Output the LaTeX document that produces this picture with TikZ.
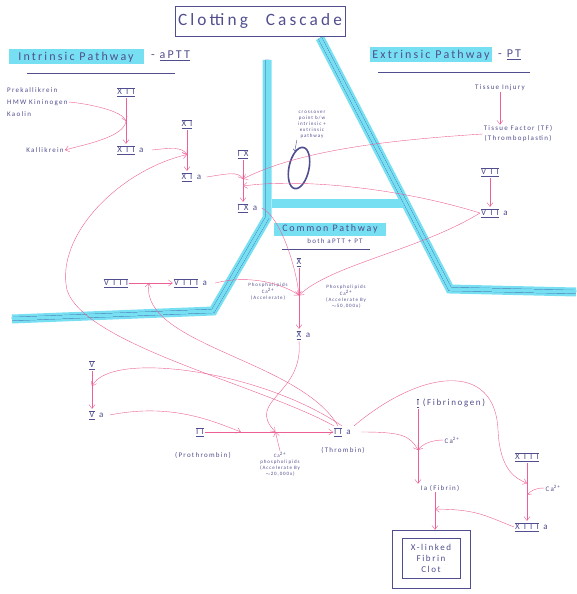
\documentclass[tikz,border=0pt]{standalone}
\usepackage{fontspec}
\setmainfont{Carlito}[LetterSpace=18]
\newfontfamily\numfont{Carlito}[LetterSpace=45]
\usetikzlibrary{arrows.meta,shapes.geometric}
\definecolor{ink}{RGB}{80,78,142}
\definecolor{pen}{RGB}{236,96,150}
\definecolor{marker}{RGB}{118,224,242}
\definecolor{rule}{RGB}{58,66,150}
\newcommand{\rn}[1]{$\overline{\underline{\hbox{\numfont #1}}}$}
\newcommand{\rna}[1]{\rn{#1}\rlap{\enspace a}}
\newcommand{\caion}{Ca\textsuperscript{2+}}
\tikzset{
  factor/.style={text=ink,font=\small,inner sep=1pt},
  note/.style={text=ink,font=\scriptsize,inner sep=1pt,align=center},
  tinynote/.style={text=ink,font=\tiny,inner sep=1pt,align=center},
  heading/.style={text=ink,font=\large,inner sep=1pt},
  highlight/.style={heading,fill=marker,minimum height=15pt},
  ring/.style={draw=ink,ellipse,line width=1.6pt,minimum width=20pt,minimum height=42pt,rotate=-12},
  clotbox/.style={draw=ink,align=center,text=ink,font=\small,minimum width=58pt,minimum height=40pt},
  clotframe/.style={draw=ink,minimum width=78pt,minimum height=58pt},
  act/.style={draw=pen,-{Straight Barb[length=4pt,width=6pt]}},
  band/.style={draw=marker,line width=9pt},
  bandline/.style={draw=rule,double=marker,double distance=3.5pt,very thin}
}
\begin{document}
\begin{tikzpicture}[x=1pt,y=-1pt]
  \useasboundingbox (0,0) rectangle (576,594);
  % pathway borders
  \draw[band] (267,60) -- (267,218) -- (213,311) -- (12,319);
  \draw[band] (272,203) -- (404,203);
  \draw[band] (320,38) -- (450,289) -- (576,292);
  \draw[bandline] (267,60) -- (267,218) -- (213,311) -- (12,319);
  \draw[bandline] (272,203) -- (404,203);
  \draw[bandline] (320,38) -- (450,289) -- (576,292);

  % title and headings
  \node[draw=ink,text=ink,font=\LARGE,minimum width=169pt,minimum height=30pt] (title) at (260,21) {Clotting\hspace{18pt}Cascade};
  \node[highlight,minimum width=135pt] (intr) at (76,57) {Intrinsic Pathway};
  \node[heading,anchor=west] (aptt) at (150,56) {- \underline{aPTT}};
  \draw[ink] (27,73) -- (175,73);
  \node[highlight,minimum width=122pt] (extr) at (431,55) {Extrinsic Pathway};
  \node[heading,anchor=west] (pt) at (497,55) {- \underline{PT}};
  \draw[ink] (378,72) -- (530,72);
  \node[highlight,font=\normalsize,minimum width=112pt,minimum height=13pt] (common) at (330,229) {Common Pathway};
  \node[note] (both) at (335,241) {both aPTT + PT};
  \draw[ink] (282,249) -- (370,249);

  % intrinsic
  \node[note,align=left,anchor=west] (kalsrc) at (6,102) {Prekallikrein\\[4pt]HMW Kininogen\\[4pt]Kaolin};
  \node[note] (kal) at (45,150) {Kallikrein};
  \node[factor] (f12) at (126,92) {\rn{XII}};
  \node[factor] (f12a) at (126,150) {\rna{XII}};
  \node[factor] (f11) at (187,124) {\rn{XI}};
  \node[factor] (f11a) at (187,177) {\rna{XI}};
  \node[factor] (f9) at (243,154) {\rn{IX}};
  \node[factor] (f9a) at (243,208) {\rna{IX}};
  \node[factor] (f8) at (116,283) {\rn{VIII}};
  \node[factor] (f8a) at (186,283) {\rna{VIII}};

  % extrinsic
  \node[note] (tinj) at (500,88) {Tissue Injury};
  \node[note] (tf) at (518,134) {Tissue Factor (TF)\\[2pt](Thromboplastin)};
  \node[factor] (f7) at (490,172) {\rn{VII}};
  \node[factor] (f7a) at (490,213) {\rna{VII}};
  \node[tinynote] (cross) at (312,125) {crossover\\point b/w\\intrinsic +\\extrinsic\\pathway};
  \node[ring] (ring) at (299,168) {};

  % common
  \node[factor] (f10) at (299,262) {\rn{X}};
  \node[factor] (f10a) at (299,335) {\rna{X}};
  \node[tinynote] (pl8) at (268,292) {Phospholipids\\\caion\\(Accelerate)};
  \node[tinynote] (pl7) at (346,297) {Phospholipids\\\caion\\(Accelerate By\\$\sim$50,000x)};
  \node[factor] (f5) at (92,365) {\rn{V}};
  \node[factor] (f5a) at (92,415) {\rna{V}};
  \node[factor] (f2) at (200,432) {\rn{I\hspace{3pt}I}};
  \node[note] (prot) at (203,455) {(Prothrombin)};
  \node[tinynote] (capl) at (280,464) {\caion\\phospholipids\\(Accelerate By\\$\sim$20,000x)};
  \node[factor] (f2a) at (338,432) {\rna{I\hspace{3pt}I}};
  \node[note] (thr) at (343,450) {(Thrombin)};
  \node[factor] (f1) at (418,403) {\rn{I}\rlap{\ (Fibrinogen)}};
  \node[note] (ca1) at (452,440) {\caion};
  \node[note] (f1a) at (440,488) {Ia (Fibrin)};
  \node[factor] (f13) at (527,457) {\rn{XIII}};
  \node[note] (ca13) at (553,488) {\caion};
  \node[factor] (f13a) at (527,527) {\rna{XIII}};
  \node[clotbox] (clot) at (431,558) {X-linked\\Fibrin\\Clot};
  \node[clotframe] (frame) at (431,559) {};

  % activations
  \draw[act] (f12) -- coordinate[pos=0.5] (m12) (f12a);
  \draw[act] (kalsrc.east) .. controls +(22,2) and +(-4,-10) .. (m12);
  \draw[act] (m12) .. controls +(-2,16) and +(22,-6) .. (kal.east);
  \draw[act] (f11) -- coordinate[pos=0.6] (m11) (f11a);
  \draw[act] ([xshift=16pt]f12a.east) .. controls +(18,-2) and +(-5,-8) .. (m11);
  \draw[act] (f9) -- coordinate[pos=0.45] (m9a) coordinate[pos=0.62] (m9b) (f9a);
  \draw[act] ([xshift=13pt]f11a.east) .. controls +(20,-3) and +(-5,-8) .. (m9a);
  \draw[act] (tf.west) .. controls (390,140) and (300,150) .. (m9a);
  \draw[act] (f7a.west) .. controls (400,188) and (300,178) .. (m9b);
  \draw[act] (tinj.south) -- (tinj.south |- tf.north);
  \draw[act] (f7) -- (f7a);
  \draw[-{Straight Barb[length=2pt]},ink] (cross.south west) -- (ring.north west);

  \draw[act] (f8) -- coordinate[pos=0.45] (m8) (f8a);
  \draw[act] (f10) -- coordinate[pos=0.45] (m10) (f10a);
  \draw[act] ([xshift=16pt]f8a.east) .. controls +(40,-10) and +(-10,-8) .. (m10);
  \draw[act] ([xshift=12pt]f9a.east) .. controls +(18,8) and +(-3,-30) .. (m10);
  \draw[act] (f7a.west) .. controls (420,250) and (330,265) .. (m10);

  \draw[act] (f5) -- coordinate[pos=0.4] (m5) (f5a);
  \draw[act] (f2) -- coordinate[pos=0.28] (m2a) coordinate[pos=0.55] (m2b) (f2a);
  \draw[act] ([xshift=14pt]f5a.east) .. controls +(60,-12) and +(-30,-12) .. (m2a);
  \draw[act] (f10a.south) .. controls (304,395) and (245,400) .. (m2b);
  \draw[act] (capl.north) -- (m2b);

  % thrombin feedback
  \coordinate (loopA) at (67,290);
  \draw[act] ([xshift=-4pt]f2a.north) .. controls (260,385) and (85,345) .. (loopA) .. controls (55,235) and (120,170) .. (m11);
  \draw[act] (f2a.north) .. controls (300,360) and (140,345) .. (m8);
  \draw[act] ([xshift=4pt]f2a.north) .. controls (260,370) and (110,350) .. (m5);

  % fibrin
  \draw[act] (f1.south) -- coordinate[pos=0.55] (m1) (f1.south |- f1a.north);
  \draw[act] ([xshift=18pt]f2a.east) .. controls +(40,0) and +(-8,-15) .. (m1);
  \draw[act] (ca1.west) .. controls +(-12,0) and +(4,-6) .. (m1);
  \draw[act] (f13) -- coordinate[pos=0.35] (m13) coordinate[pos=0.55] (m13b) (f13a);
  \draw[act] (ca13.west) .. controls +(-10,0) and +(4,-4) .. (m13b);
  \coordinate (arc13) at (498,430);
  \draw[act] ([xshift=16pt]f2a.north) .. controls (420,370) and (495,360) .. (arc13) .. controls (500,470) and (515,478) .. (m13);
  \draw[act] ([xshift=-5pt]f1a.south) -- coordinate[pos=0.45] (mclot) ([xshift=-5pt]f1a.south |- frame.north);
  \draw[act] (f13a.west) .. controls +(-30,-12) and +(40,0) .. (mclot);
\end{tikzpicture}
\end{document}
